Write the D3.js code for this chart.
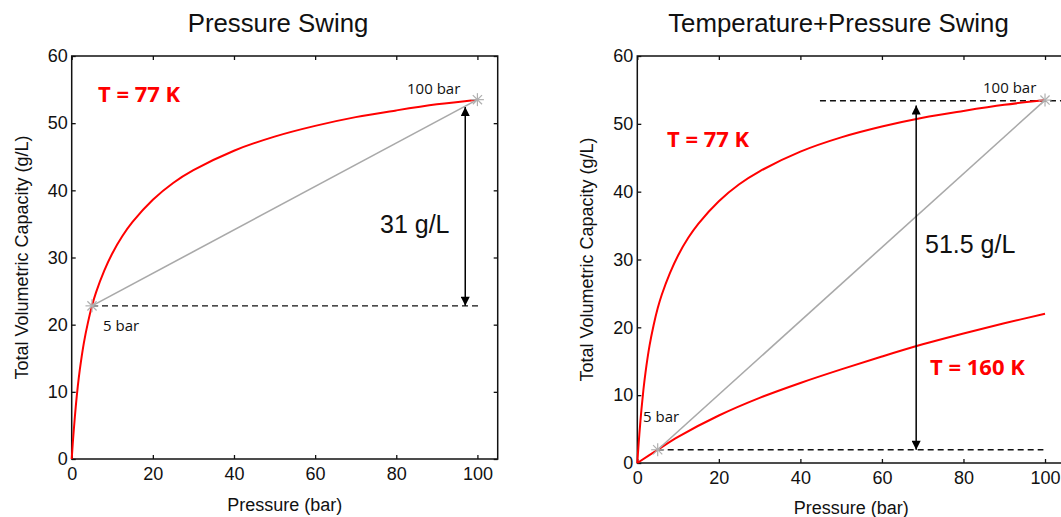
<!DOCTYPE html>
<html>
<head>
<meta charset="utf-8">
<script src="https://cdn.jsdelivr.net/npm/d3@7"></script>
<style>
  html, body { margin: 0; padding: 0; background: #fff; }
  svg { display: block; }
  .tick text { font-family: "Liberation Sans", Arial, sans-serif; font-size: 18px; fill: #111; }
  .tick line { stroke: #111; stroke-width: 1.3; }
</style>
</head>
<body>
<svg id="chart" width="1061" height="517"></svg>
<script>
// values
const pressure77 = [0, 0.25, 0.5, 1, 1.5, 2, 3, 4, 5, 6, 8, 10, 12.5, 15, 20, 25, 30, 40, 50, 60, 70, 80, 90, 100];
const capacity77 = [0, 2.2, 4.2, 7.8, 10.8, 13.3, 17.3, 20.3, 22.8, 24.8, 28.0, 30.6, 33.2, 35.3, 38.6, 41.1, 43.0, 45.9, 48.0, 49.6, 50.9, 51.9, 52.8, 53.5];
const pressure160 = [0, 5, 10, 20, 30, 40, 50, 60, 70, 80, 90, 100];
const capacity160 = [0, 1.95, 3.85, 7.0, 9.6, 11.8, 13.8, 15.7, 17.5, 19.1, 20.6, 22.0];
const xTicks = [0, 20, 40, 60, 80, 100];
const yTicks = [0, 10, 20, 30, 40, 50, 60];
const swingPointsLeft = [[5, 22.8], [100, 53.5]];
const swingPointsRight = [[5, 1.95], [100, 53.5]];
const dashLeft = [[[5, 22.8], [100.6, 22.8]]];
const dashRight = [[[44.8, 53.4], [106, 53.4]], [[5, 1.95], [99.6, 1.95]]];
const arrowLeft = [97, 22.8, 52.4];   // pressure, low end, high end
const arrowRight = [68.4, 1.95, 52.7];

const svg = d3.select('#chart');
const defs = svg.append('defs');
['start', 'end'].forEach(k => {
  defs.append('marker')
    .attr('id', 'arr-' + k)
    .attr('viewBox', '0 0 10 10')
    .attr('refX', 10).attr('refY', 5)
    .attr('markerWidth', 10).attr('markerHeight', 9)
    .attr('markerUnits', 'userSpaceOnUse')
    .attr('orient', k === 'end' ? 'auto' : 'auto-start-reverse')
    .append('path').attr('d', 'M0,0 L10,5 L0,10 Z').attr('fill', '#000');
});

function panel(cfg) {
  const x = d3.scaleLinear().domain([0, 105]).range([cfg.left, cfg.right]);
  const y = d3.scaleLinear().domain([0, 60]).range([cfg.bottom, cfg.top]);
  const g = svg.append('g');

  // title
  g.append('text')
    .attr('x', cfg.titleX).attr('y', 32)
    .attr('text-anchor', 'middle')
    .style('font-family', '"Liberation Sans", Arial, sans-serif')
    .style('font-size', '25.8px').attr('fill', '#111')
    .text(cfg.title);

  // axes, ticks inward on all four sides
  g.append('g').attr('transform', `translate(0,${cfg.bottom})`)
    .call(d3.axisBottom(x).tickValues(xTicks).tickSize(-4).tickPadding(8))
    .call(a => a.select('.domain').remove());
  g.append('g').attr('transform', `translate(0,${cfg.top})`)
    .call(d3.axisTop(x).tickValues(xTicks).tickSize(-4).tickFormat(''))
    .call(a => a.select('.domain').remove());
  g.append('g').attr('transform', `translate(${cfg.left},0)`)
    .call(d3.axisLeft(y).tickValues(yTicks).tickSize(-4).tickPadding(4))
    .call(a => a.select('.domain').remove());
  g.append('g').attr('transform', `translate(${cfg.right},0)`)
    .call(d3.axisRight(y).tickValues(yTicks).tickSize(-4).tickFormat(''))
    .call(a => a.select('.domain').remove());
  g.append('rect')
    .attr('x', cfg.left).attr('y', cfg.top)
    .attr('width', cfg.right - cfg.left).attr('height', cfg.bottom - cfg.top)
    .attr('fill', 'none').attr('stroke', '#111').attr('stroke-width', 1.5);

  // axis titles
  g.append('text')
    .attr('x', (cfg.left + cfg.right) / 2).attr('y', cfg.xTitleY)
    .attr('text-anchor', 'middle')
    .style('font-family', '"Liberation Sans", Arial, sans-serif')
    .style('font-size', '18px').attr('fill', '#111')
    .text('Pressure (bar)');
  g.append('text')
    .attr('transform', `translate(${cfg.yTitleX},${(cfg.top + cfg.bottom) / 2}) rotate(-90)`)
    .attr('text-anchor', 'middle')
    .style('font-family', '"Liberation Sans", Arial, sans-serif')
    .style('font-size', '18px').attr('fill', '#111')
    .text('Total Volumetric Capacity (g/L)');

  const line = d3.line().x(d => x(d[0])).y(d => y(d[1]));
  const smooth = d3.line().x(d => x(d[0])).y(d => y(d[1])).curve(d3.curveCatmullRom.alpha(0.5));

  // dashed guides
  cfg.dashes.forEach(seg => {
    g.append('path').attr('d', line(seg))
      .attr('fill', 'none').attr('stroke', '#111')
      .attr('stroke-width', 1.3).attr('stroke-dasharray', '6,4');
  });

  // isotherms
  cfg.curves.forEach(c => {
    g.append('path').attr('d', smooth(d3.zip(c[0], c[1])))
      .attr('fill', 'none').attr('stroke', '#ff0000').attr('stroke-width', 2);
  });

  // swing line and star markers
  g.append('path').attr('d', line(cfg.swing))
    .attr('fill', 'none').attr('stroke', '#a9a9a9').attr('stroke-width', 1.6);
  cfg.swing.forEach(p => {
    const cx = x(p[0]), cy = y(p[1]), r = 6.5;
    [0, 45, 90, 135].forEach(a => {
      const dx = r * Math.cos(a * Math.PI / 180), dy = r * Math.sin(a * Math.PI / 180);
      g.append('line')
        .attr('x1', cx - dx).attr('y1', cy - dy).attr('x2', cx + dx).attr('y2', cy + dy)
        .attr('stroke', '#b0b0b0').attr('stroke-width', 1.2);
    });
  });

  // double arrow
  g.append('line')
    .attr('x1', x(cfg.arrow[0])).attr('x2', x(cfg.arrow[0]))
    .attr('y1', y(cfg.arrow[1])).attr('y2', y(cfg.arrow[2]))
    .attr('stroke', '#000').attr('stroke-width', 1.5)
    .attr('marker-start', 'url(#arr-start)').attr('marker-end', 'url(#arr-end)');

  // annotations
  cfg.notes.forEach(n => {
    g.append('text')
      .attr('x', n.x).attr('y', n.y)
      .style('font-family', n.font)
      .style('font-size', n.size + 'px')
      .style('font-weight', n.bold ? 'bold' : 'normal')
      .attr('fill', n.color)
      .text(n.text);
  });
}

const calibri = '"Open Sans", "Noto Sans", sans-serif';
const arial = '"Liberation Sans", Arial, sans-serif';

panel({
  title: 'Pressure Swing', titleX: 278,
  left: 71.7, right: 497.7, top: 56, bottom: 459, yTitleX: 28, xTitleY: 511,
  curves: [[pressure77, capacity77]],
  swing: swingPointsLeft,
  dashes: dashLeft,
  arrow: arrowLeft,
  notes: [
    { text: 'T = 77 K', x: 98, y: 102, size: 22, bold: true, color: '#ff0000', font: calibri },
    { text: '100 bar', x: 407, y: 94, size: 15, color: '#111', font: calibri },
    { text: '5 bar', x: 103, y: 331, size: 15, color: '#111', font: calibri },
    { text: '31 g/L', x: 380, y: 233, size: 25, color: '#111', font: arial }
  ]
});

panel({
  title: 'Temperature+Pressure Swing', titleX: 838.5,
  left: 637.3, right: 1065.4, top: 56, bottom: 463, yTitleX: 593, xTitleY: 514,
  curves: [[pressure77, capacity77], [pressure160, capacity160]],
  swing: swingPointsRight,
  dashes: dashRight,
  arrow: arrowRight,
  notes: [
    { text: 'T = 77 K', x: 667, y: 147, size: 22, bold: true, color: '#ff0000', font: calibri },
    { text: 'T = 160 K', x: 930, y: 375, size: 22, bold: true, color: '#ff0000', font: calibri },
    { text: '100 bar', x: 983, y: 93, size: 15, color: '#111', font: calibri },
    { text: '5 bar', x: 643, y: 422, size: 15, color: '#111', font: calibri },
    { text: '51.5 g/L', x: 925, y: 253, size: 25, color: '#111', font: arial }
  ]
});
</script>
</body>
</html>
